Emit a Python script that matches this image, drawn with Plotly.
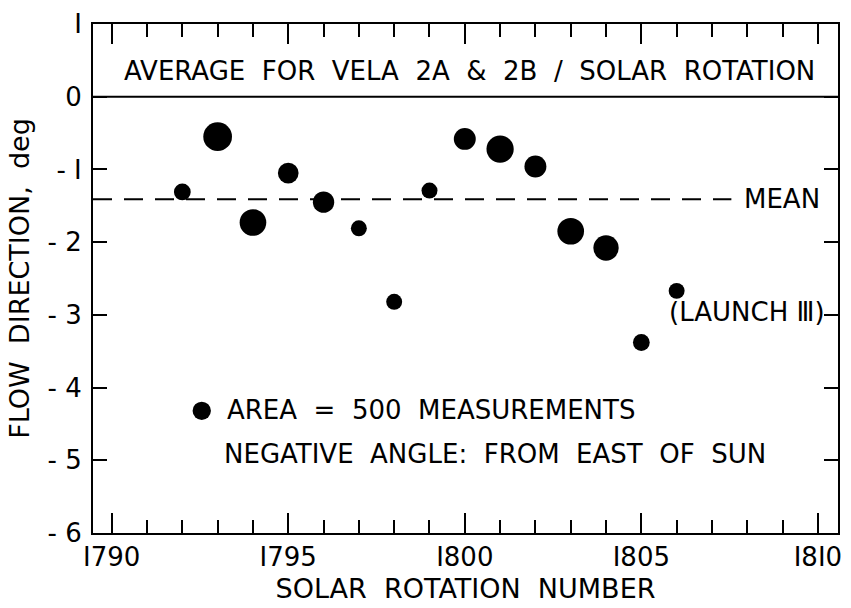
import plotly.graph_objects as go

# Average flow direction per solar rotation (Vela 2A & 2B)
rotation = [1792, 1793, 1794, 1795, 1796, 1797, 1798, 1799,
            1800, 1801, 1802, 1803, 1804, 1805, 1806]
flow_deg = [-1.31, -0.55, -1.73, -1.05, -1.45, -1.81, -2.82, -1.29,
            -0.58, -0.72, -0.96, -1.85, -2.08, -3.38, -2.67]
measurements = [420, 1230, 1060, 640, 680, 380, 380, 380,
                720, 1110, 720, 1060, 960, 420, 380]

mean_deg = -1.41
key_count = 500

x_ticks = [1790, 1795, 1800, 1805, 1810]
y_ticks = [1, 0, -1, -2, -3, -4, -5, -6]
y_tick_text = ["I", "0", "- I", "- 2", "- 3", "- 4", "- 5", "- 6"]
x_tick_text = ["I790", "I795", "I800", "I805", "I8I0"]

FONT = "DejaVu Sans"
FS = 26
KEY_DIAM = 18.3
# area-proportional bubbles: a 500-measurement dot is KEY_DIAM px across
sizeref = 2.0 * key_count / KEY_DIAM ** 2

X0, X1 = 1789.47, 1810.57
Y0, Y1 = -6, 1

fig = go.Figure()

# dashed mean line
fig.add_trace(go.Scatter(
    x=[X0, 1807.55], y=[mean_deg, mean_deg], mode="lines",
    line=dict(color="black", width=2, dash="19px,12px"),
    hoverinfo="skip", showlegend=False))

# per-rotation averages
fig.add_trace(go.Scatter(
    x=rotation, y=flow_deg, mode="markers",
    marker=dict(size=measurements, sizemode="area", sizeref=sizeref,
                color="black", opacity=1, line=dict(width=0)),
    showlegend=False))

# size key dot
fig.add_trace(go.Scatter(
    x=[1792.55], y=[-4.32], mode="markers",
    marker=dict(size=[key_count], sizemode="area", sizeref=sizeref,
                color="black", opacity=1, line=dict(width=0)),
    hoverinfo="skip", showlegend=False))

txt = dict(family=FONT, size=FS, color="black")
title_font = dict(family=FONT, size=27, color="black")
annotations = [
    dict(x=0.505, xref="paper", y=0.36, yref="y",
         text="AVERAGE  FOR  VELA  2A  &  2B  /  SOLAR  ROTATION",
         showarrow=False, font=txt, xanchor="center", yanchor="middle"),
    dict(x=1807.85, y=mean_deg, text="MEAN", showarrow=False,
         font=txt, xanchor="left", yanchor="middle"),
    dict(x=1805.74, y=-2.96, text="(LAUNCH Ⅲ)", showarrow=False,
         font=txt, xanchor="left", yanchor="middle"),
    dict(x=1793.2, y=-4.31, text="AREA  =  500  MEASUREMENTS", showarrow=False,
         font=txt, xanchor="left", yanchor="middle"),
    dict(x=1793.13, y=-4.91, text="NEGATIVE  ANGLE:  FROM  EAST  OF  SUN",
         showarrow=False, font=txt, xanchor="left", yanchor="middle"),
]

fig.update_layout(
    width=851, height=608,
    margin=dict(l=93, r=9, t=17, b=75),
    paper_bgcolor="white", plot_bgcolor="white",
    font=txt,
    annotations=annotations,
    shapes=[dict(type="line", xref="paper", x0=0, x1=1, yref="y", y0=0, y1=0,
                 line=dict(color="black", width=2))],
)

fig.update_xaxes(
    range=[X0, X1], showgrid=False, zeroline=False,
    showline=True, linecolor="black", linewidth=2, mirror="ticks",
    ticks="inside", ticklen=20, tickwidth=2, tickcolor="black",
    tickvals=x_ticks, ticktext=x_tick_text,
    minor=dict(dtick=1, tick0=1790, ticks="inside", ticklen=13,
               tickwidth=2, tickcolor="black", showgrid=False),
    title=dict(text="SOLAR  ROTATION  NUMBER", font=title_font, standoff=8),
    tickfont=txt,
)
fig.update_yaxes(
    range=[Y0, Y1], showgrid=False, zeroline=False,
    showline=True, linecolor="black", linewidth=2, mirror="ticks",
    ticks="inside", ticklen=14, tickwidth=2, tickcolor="black",
    tickvals=y_ticks, ticktext=y_tick_text,
    title=dict(text="FLOW  DIRECTION,  deg", font=title_font, standoff=10),
    tickfont=txt, ticklabelstandoff=4,
)

fig.write_html("out.html")
